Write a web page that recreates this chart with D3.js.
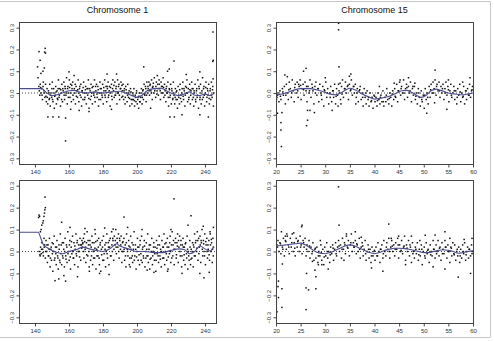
<!DOCTYPE html>
<html>
<head>
<meta charset="utf-8">
<script src="https://d3js.org/d3.v7.min.js"></script>
<style>
body { margin: 0; background: #fff; font-family: "Liberation Sans", Arial, sans-serif; }
.tick text { font-size: 6px; fill: #333; }
.title { font-size: 9px; fill: #111; }
</style>
</head>
<body>
<script>
// chromosome 1, upper panel
var chr1TopBand = [[142.3,0.03],[142.8,-0.01],[143.1,0.04],[143.6,0.0],[144.0,0.02],[144.4,-0.03],[144.9,0.05],[145.3,0.01],[145.8,-0.02],[146.2,0.04],[146.7,-0.04],[147.1,0.02],
[147.5,-0.05],[147.9,0.01],[148.3,-0.03],[148.7,0.04],[149.0,-0.06],[149.4,0.0],[149.8,-0.02],[150.2,0.05],[150.6,-0.04],[151.0,0.02],[151.4,-0.07],[151.8,-0.01],
[152.2,0.03],[152.6,-0.05],[153.0,0.01],[153.4,-0.03],[153.8,0.06],[154.2,-0.02],[154.6,0.02],[155.0,-0.06],[155.4,0.0],[155.8,0.04],[156.2,-0.04],[156.6,0.01],
[157.0,0.05],[157.4,-0.03],[157.8,0.02],[158.2,-0.01],[158.6,0.07],[159.0,-0.05],[159.4,0.03],[159.8,0.0],[160.2,0.06],[160.6,-0.02],[161.0,0.04],[161.4,-0.04],[161.8,0.02],
[162.2,0.05],[162.6,-0.03],[163.0,0.08],[163.4,0.0],[163.8,-0.05],[164.2,0.03],[164.6,0.01],[165.0,-0.02],[165.4,0.06],[165.8,-0.04],[166.2,0.02],[166.6,-0.01],
[167.0,0.04],[167.4,-0.06],[167.8,0.01],[168.2,-0.03],[168.6,0.05],[169.0,0.0],[169.4,-0.02],[169.8,0.03],[170.2,-0.05],[170.6,0.02],[171.0,-0.01],[171.4,0.06],[171.8,-0.07],
[172.2,0.02],[172.6,-0.03],[173.0,0.04],[173.4,0.0],[173.8,-0.05],[174.2,0.03],[174.6,-0.01],[175.0,0.06],[175.4,-0.04],[175.8,0.01],[176.2,0.04],[176.6,-0.02],
[177.0,0.03],[177.4,-0.06],[177.8,0.0],[178.2,0.05],[178.6,-0.03],[179.0,0.02],[179.4,-0.01],[179.8,0.04],[180.2,-0.05],[180.6,0.01],[181.0,0.06],[181.4,-0.02],[181.8,0.03],
[182.2,-0.04],[182.6,0.02],[183.0,0.05],[183.4,-0.01],[183.8,0.03],[184.2,-0.06],[184.6,0.0],[185.0,0.04],[185.4,-0.03],[185.8,0.06],[186.2,0.01],[186.6,-0.02],
[187.0,0.05],[187.4,-0.01],[187.8,0.03],[188.2,-0.05],[188.6,0.06],[189.0,0.0],[189.4,0.04],[189.8,-0.03],[190.2,0.02],[190.6,0.05],[191.0,-0.02],[191.4,0.01],[191.8,0.04],
[192.2,-0.03],[192.6,0.02],[193.0,-0.05],[193.4,0.03],[193.8,0.0],[194.2,-0.04],[194.6,0.04],[195.0,-0.02],[195.4,0.01],[195.8,-0.06],[196.2,0.02],[196.6,-0.03],
[197.0,-0.05],[197.4,0.0],[197.8,-0.03],[198.2,0.02],[198.6,-0.06],[199.0,-0.01],[199.4,-0.04],[199.8,0.01],[200.2,-0.05],[200.6,-0.02],[201.0,-0.07],[201.4,0.0],[201.8,-0.04],
[202.2,-0.02],[202.6,0.02],[203.0,-0.05],[203.4,0.01],[203.8,-0.03],[204.2,0.04],[204.6,-0.01],[205.0,0.03],[205.4,-0.04],[205.8,0.05],[206.2,0.0],[206.6,0.02],
[207.0,0.05],[207.4,-0.01],[207.8,0.04],[208.2,0.01],[208.6,0.06],[209.0,-0.03],[209.4,0.03],[209.8,0.0],[210.2,0.07],[210.6,0.02],[211.0,-0.02],[211.4,0.05],[211.8,0.01],
[212.2,0.04],[212.6,-0.01],[213.0,0.06],[213.4,0.02],[213.8,-0.03],[214.2,0.05],[214.6,0.0],[215.0,0.03],[215.4,0.07],[215.8,-0.02],[216.2,0.04],[216.6,0.01],
[217.0,-0.04],[217.4,0.03],[217.8,0.0],[218.2,0.05],[218.6,-0.06],[219.0,0.02],[219.4,-0.02],[219.8,0.04],[220.2,-0.05],[220.6,0.01],[221.0,-0.03],[221.4,0.05],[221.8,-0.01],
[222.2,-0.05],[222.6,0.02],[223.0,-0.03],[223.4,0.01],[223.8,-0.07],[224.2,0.03],[224.6,-0.02],[225.0,-0.05],[225.4,0.04],[225.8,-0.01],[226.2,-0.04],[226.6,0.02],
[227.0,0.05],[227.4,-0.03],[227.8,0.01],[228.2,-0.06],[228.6,0.03],[229.0,0.0],[229.4,0.06],[229.8,-0.04],[230.2,0.02],[230.6,-0.02],[231.0,0.04],[231.4,-0.05],[231.8,0.01],
[232.2,0.05],[232.6,-0.03],[233.0,0.02],[233.4,-0.06],[233.8,0.0],[234.2,0.04],[234.6,-0.04],[235.0,0.01],[235.4,-0.02],[235.8,0.06],[236.2,-0.07],[236.6,0.02],
[237.0,-0.03],[237.4,0.04],[237.8,-0.05],[238.2,0.01],[238.6,0.07],[239.0,-0.02],[239.4,0.03],[239.8,-0.06],[240.2,0.0],[240.6,0.05],[241.0,-0.04],[241.4,0.02],[241.8,-0.01],
[242.2,0.04],[242.6,-0.05],[243.0,0.01],[243.4,-0.03],[243.8,0.05],[244.2,-0.02],[244.6,0.03],[245.0,-0.06],[244.9,0.0]];
var chr1TopCore = [[142.55,0.01],[143.35,0.025],[144.15,-0.01],[144.75,0.03],[145.55,0.0],[146.45,-0.015],[147.25,-0.02],[148.05,0.0],[148.55,-0.025],[149.15,-0.01],
[149.95,0.02],[150.35,-0.03],[151.15,0.0],[151.65,-0.015],[152.45,0.005],[153.15,-0.025],[153.65,0.02],[154.35,-0.01],[155.15,0.015],[155.65,-0.03],
[156.35,0.02],[157.15,-0.01],[157.65,0.03],[158.35,0.0],[159.15,0.02],[159.65,-0.02],[160.35,0.025],[161.15,0.0],[161.65,0.035],[162.35,-0.01],
[163.15,0.02],[163.65,0.04],[164.35,-0.015],[165.15,0.015],[165.65,0.0],[166.35,0.03],[167.15,-0.02],[167.65,0.01],[168.35,0.025],[169.15,-0.03],
[169.65,0.015],[170.35,0.0],[171.15,0.02],[171.65,-0.025],[172.45,0.01],[173.15,-0.015],[173.65,0.025],[174.45,0.0],[175.15,-0.02],[175.65,0.03],
[176.45,-0.005],[177.15,0.015],[177.65,-0.03],[178.45,0.02],[179.15,0.0],[179.65,-0.02],[180.45,0.025],[181.15,-0.01],[181.65,0.01],[182.45,0.03],
[183.15,-0.02],[183.65,0.01],[184.45,0.025],[185.15,-0.015],[185.65,0.02],[186.45,0.035],[187.15,-0.01],[187.65,0.02],[188.45,0.0],[189.15,0.03],
[189.65,-0.01],[190.45,0.02],[191.15,0.035],[191.65,-0.015],[192.45,0.01],[193.15,-0.02],[193.65,0.015],[194.45,-0.01],[195.15,0.0],[195.65,-0.025],
[196.45,0.005],[197.15,-0.03],[197.65,-0.01],[198.45,-0.035],[199.15,-0.02],[199.65,0.0],[200.45,-0.03],[201.15,-0.015],[201.65,-0.04],[202.45,0.0],
[203.15,-0.02],[203.65,0.015],[204.45,-0.005],[205.15,0.02],[205.65,-0.01],[206.45,0.03],[207.15,0.01],[207.65,0.035],[208.45,0.0],[209.15,0.025],
[209.65,0.045],[210.45,0.01],[211.15,0.03],[211.65,-0.005],[212.45,0.02],[213.15,0.04],[213.65,0.01],[214.45,0.03],[215.15,0.0],[215.65,0.025],
[216.45,-0.01],[217.15,0.02],[217.65,0.0],[218.45,-0.02],[219.15,0.015],[219.65,-0.01],[220.45,0.02],[221.15,-0.025],[221.65,0.0],[222.45,-0.02],
[223.15,0.005],[223.65,-0.03],[224.45,-0.01],[225.15,0.015],[225.65,-0.025],[226.45,0.0],[227.15,-0.015],[227.65,0.02],[228.45,-0.01],[229.15,0.025],
[229.65,0.0],[230.45,-0.03],[231.15,0.015],[231.65,-0.01],[232.45,0.02],[233.15,-0.02],[233.65,0.01],[234.45,-0.03],[235.15,0.02],[235.65,-0.01],
[236.45,0.03],[237.15,-0.02],[237.65,0.0],[238.45,-0.03],[239.15,0.02],[239.65,-0.01],[240.45,0.025],[241.15,-0.02],[241.65,0.01],[242.45,-0.025],
[243.15,0.02],[243.65,-0.01],[244.45,0.015]];
var chr1TopOut = [[142.4,0.19],[143.0,0.15],[141.5,0.12],[144.7,0.1],[146.0,0.205],[145.7,0.188],[146.2,0.183],[145.5,0.115],[143.5,0.09],[141.8,0.07],
[147.6,-0.11],[150.6,-0.11],[154,-0.11],[158,-0.115],[158,-0.22],[171.8,-0.085],[204,0.12],[221.8,0.147],[219,0.11],[219.4,-0.11],[222,-0.11],
[226.5,-0.1],[237,-0.1],[242,-0.11],[244.7,0.28],[244.6,0.145],[244.9,0.15],[244.8,0.065],[188,0.087],[182.4,0.087],[160,0.097],[212,0.08],
[218,0.1],[237,0.097],[229,0.085],[166,-0.08],[185,-0.075],[208,-0.07],[161,-0.075]];
var chr1TopFit = [[130,0.02],[144,0.02],[147,0.0],[150,-0.012],[153,-0.008],[156,0.0],[160,0.01],[163,0.012],[166,0.005],[170,0.0],[175,0.005],[180,0.0],
[185,0.005],[190,0.008],[193,0.0],[197,-0.012],[200,-0.02],[203,-0.01],[206,0.01],[210,0.02],[214,0.022],[217,0.012],[220,0.0],[224,-0.012],
[228,-0.005],[231,0.005],[234,-0.01],[237,-0.012],[240,-0.005],[243,-0.012],[245,-0.005]];

// chromosome 1, lower panel
var chr1BotBand = [[142.5,0.0],[142.9,-0.015],[143.3,0.02],[143.7,-0.01],[144.1,0.04],[144.5,0.01],[144.9,-0.02],[145.3,0.06],[145.7,0.03],[146.1,-0.03],[146.5,0.05],[146.9,0.0],
[147.3,-0.05],[147.7,0.03],[148.1,-0.02],[148.5,0.06],[148.9,-0.07],[149.3,0.01],[149.7,-0.04],[150.1,0.04],[150.5,-0.09],[150.9,0.0],[151.3,0.07],[151.7,-0.03],
[152.1,0.02],[152.5,-0.06],[152.9,0.05],[153.3,-0.02],[153.7,-0.08],[154.1,0.03],[154.5,-0.04],[154.9,0.08],[155.3,-0.01],[155.7,-0.06],[156.1,0.04],[156.5,-0.03],[156.9,0.01],
[157.3,-0.07],[157.7,0.06],[158.1,-0.02],[158.5,0.03],[158.9,-0.05],[159.3,0.09],[159.7,0.0],[160.1,-0.04],[160.5,0.05],[160.9,-0.08],[161.3,0.02],[161.7,-0.01],
[162.1,0.07],[162.5,-0.03],[162.9,0.04],[163.3,-0.06],[163.7,0.01],[164.1,0.08],[164.5,-0.02],[164.9,0.05],[165.3,-0.07],[165.7,0.03],[166.1,0.0],[166.5,0.06],[166.9,-0.04],
[167.3,0.03],[167.6,0.05],[167.9,0.02],[168.2,0.04],[168.5,0.06],[168.8,-0.03],[169.1,0.08],[169.5,0.01],[169.9,-0.05],[170.3,0.04],[170.7,0.09],[171.1,-0.02],[171.5,0.03],[171.9,-0.07],
[172.3,0.05],[172.7,-0.04],[173.1,0.02],[173.5,0.07],[173.9,-0.06],[174.3,0.0],[174.7,0.04],[175.1,-0.03],[175.5,0.08],[175.9,-0.08],[176.3,0.01],[176.7,0.05],
[177.1,-0.02],[177.5,0.06],[177.9,-0.06],[178.3,0.03],[178.7,-0.09],[179.1,0.01],[179.5,0.05],[179.9,-0.04],[180.3,0.07],[180.7,-0.01],[181.1,0.03],[181.5,-0.07],[181.9,0.0],
[182.3,0.08],[182.7,-0.03],[183.1,0.04],[183.5,-0.06],[183.9,0.02],[184.3,0.06],[184.7,-0.02],[185.1,0.09],[185.5,0.0],[185.9,0.05],[186.3,-0.04],[186.7,0.07],
[187.1,0.03],[187.5,0.1],[187.9,-0.01],[188.3,0.06],[188.7,0.02],[189.1,0.08],[189.5,-0.03],[189.9,0.05],[190.3,0.01],[190.7,0.07],[191.1,-0.05],[191.5,0.04],[191.9,0.0],
[192.3,0.06],[192.7,-0.04],[193.1,0.03],[193.5,-0.07],[193.9,0.08],[194.3,0.01],[194.7,-0.02],[195.1,0.05],[195.5,-0.06],[195.9,0.02],[196.3,0.07],[196.7,-0.03],
[197.1,0.04],[197.5,-0.05],[197.9,0.01],[198.3,0.09],[198.7,-0.02],[199.1,0.03],[199.5,-0.08],[199.9,0.0],[200.3,0.06],[200.7,-0.04],[201.1,0.02],[201.5,-0.06],[201.9,0.05],
[202.3,-0.01],[202.7,0.07],[203.1,-0.05],[203.5,0.02],[203.9,-0.03],[204.3,0.05],[204.7,-0.07],[205.1,0.0],[205.5,0.04],[205.9,-0.02],[206.3,0.08],[206.7,-0.05],
[207.1,0.01],[207.5,-0.08],[207.9,0.03],[208.3,-0.03],[208.7,0.06],[209.1,-0.06],[209.5,0.0],[209.9,0.04],[210.3,-0.04],[210.7,0.02],[211.1,-0.09],[211.5,0.05],[211.9,-0.01],
[212.3,0.03],[212.7,-0.05],[213.1,0.07],[213.5,-0.02],[213.9,0.01],[214.3,-0.07],[214.7,0.05],[215.1,-0.03],[215.5,0.02],[215.9,0.08],[216.3,-0.06],[216.7,0.0],
[217.1,0.04],[217.5,-0.04],[217.9,0.06],[218.3,-0.08],[218.7,0.02],[219.1,-0.01],[219.5,0.07],[219.9,-0.05],[220.3,0.03],[220.7,0.09],[221.1,-0.02],[221.5,0.05],[221.9,-0.06],
[222.3,0.01],[222.7,0.06],[223.1,-0.03],[223.5,0.04],[223.9,0.08],[224.3,-0.05],[224.7,0.02],[225.1,0.07],[225.5,-0.02],[225.9,0.05],[226.3,-0.07],[226.7,0.03],
[227.1,0.06],[227.5,-0.04],[227.9,0.02],[228.3,-0.06],[228.7,0.04],[229.1,-0.01],[229.5,0.07],[229.9,-0.08],[230.3,0.0],[230.7,-0.04],[231.1,0.05],[231.5,-0.06],[231.9,0.01],
[232.3,-0.03],[232.7,0.04],[233.1,-0.07],[233.5,0.02],[233.9,0.08],[234.3,-0.02],[234.7,0.05],[235.1,0.0],[235.5,0.09],[235.9,-0.04],[236.3,0.06],[236.7,0.02],
[237.1,0.07],[237.5,-0.05],[237.9,0.04],[238.3,0.1],[238.7,-0.02],[239.1,0.05],[239.5,0.0],[239.9,0.08],[240.3,-0.06],[240.7,0.03],[241.1,0.06],[241.5,-0.03],[241.9,0.01],
[242.3,0.05],[242.7,-0.04],[243.1,0.08],[243.5,0.0],[243.9,0.04],[244.3,-0.05],[244.7,0.06],[245.0,0.02],[244.9,-0.02]];
var chr1BotCore = [[143.05,-0.02],[143.85,0.01],[144.65,-0.005],[145.45,0.02],[146.25,0.0],[147.05,0.03],[147.85,-0.02],[148.35,0.01],[149.05,-0.03],[149.55,0.02],
[150.25,-0.01],[150.75,0.035],[151.45,-0.04],[152.25,-0.01],[152.75,0.02],[153.45,-0.03],[154.25,0.01],[154.75,-0.05],[155.45,0.03],[156.25,-0.02],
[156.75,0.04],[157.45,0.0],[158.25,-0.035],[158.75,0.02],[159.45,-0.01],[160.25,0.03],[160.75,-0.025],[161.45,0.045],[162.25,0.0],[162.75,-0.03],
[163.45,0.025],[164.25,-0.01],[164.75,0.04],[165.45,0.0],[166.25,-0.025],[166.75,0.03],[167.45,0.015],[168.05,0.035],[168.65,0.0],[169.25,0.045],
[169.75,0.02],[170.45,-0.015],[171.25,0.05],[171.75,0.0],[172.45,0.03],[173.25,-0.02],[173.75,0.04],[174.45,-0.03],[175.25,0.015],[175.75,0.045],
[176.45,-0.02],[177.25,0.02],[177.75,-0.03],[178.45,0.04],[179.25,-0.015],[179.75,0.02],[180.45,-0.04],[181.25,0.01],[181.75,0.04],[182.45,-0.01],
[183.25,0.02],[183.75,0.05],[184.45,-0.02],[185.25,0.03],[185.75,0.06],[186.45,0.01],[187.25,0.05],[187.75,0.02],[188.45,0.04],[189.25,0.0],
[189.75,0.06],[190.45,0.03],[191.25,0.0],[191.75,0.045],[192.45,0.01],[193.25,-0.02],[193.75,0.04],[194.45,0.0],[195.25,0.025],[195.75,-0.03],
[196.45,0.01],[197.25,-0.02],[197.75,0.03],[198.45,-0.04],[199.25,0.01],[199.75,-0.025],[200.45,0.02],[201.25,-0.015],[201.75,0.03],[202.45,-0.04],
[203.25,0.01],[203.75,-0.02],[204.45,0.025],[205.25,-0.03],[205.75,0.01],[206.45,-0.02],[207.25,0.03],[207.75,-0.035],[208.45,0.0],[209.25,-0.02],
[209.75,0.02],[210.45,-0.01],[211.25,-0.04],[211.75,0.015],[212.45,-0.02],[213.25,0.03],[213.75,-0.035],[214.45,0.0],[215.25,0.02],[215.75,-0.03],
[216.45,0.035],[217.25,-0.01],[217.75,0.02],[218.45,-0.025],[219.25,0.04],[219.75,0.0],[220.45,-0.03],[221.25,0.03],[221.75,0.01],[222.45,0.04],
[223.25,-0.015],[223.75,0.025],[224.45,0.05],[225.25,0.0],[225.75,0.03],[226.45,-0.02],[227.25,0.02],[227.75,-0.015],[228.45,0.035],[229.25,-0.03],
[229.75,0.01],[230.45,-0.02],[231.25,0.02],[231.75,-0.035],[232.45,0.0],[233.25,0.03],[233.75,-0.02],[234.45,0.04],[235.25,0.015],[235.75,0.05],
[236.45,-0.01],[237.25,0.03],[237.75,0.05],[238.45,0.01],[239.25,0.035],[239.75,-0.02],[240.45,0.045],[241.25,0.0],[241.75,0.03],[242.45,-0.015],
[243.25,0.03],[243.75,0.055],[244.45,0.01]];
var chr1BotOut = [[142.4,0.166],[142.1,0.155],[142.7,0.16],[145.9,0.248],[146.1,0.2],[145.8,0.19],[145.6,0.175],[145.3,0.16],[144.9,0.14],[144.6,0.13],
[144.0,0.12],[143.6,0.1],[143.2,0.09],[221.8,0.24],[231.8,0.163],[192.4,0.157],[155.7,0.133],[151.8,-0.133],[154,-0.125],[158,-0.135],[157,-0.11],
[239.4,-0.12],[237,-0.1],[242.5,-0.095],[226.5,-0.1],[218,-0.09],[210,-0.095],[206,-0.085],[196,-0.07],[183.6,-0.105],[178,-0.1],[172,-0.09],
[165,-0.115],[160.6,0.11],[169.4,0.105],[175.3,0.1],[181,0.107],[186,0.102],[194.5,0.11],[203,0.1],[220,0.1],[230,0.12],[239,0.115],[245,0.11],[243,0.09]];
var chr1BotFit = [[130,0.088],[142,0.088],[143,0.07],[145,0.03],[147,0.018],[150,0.005],[153,-0.005],[156,-0.01],[160,0.0],[165,0.01],[168,0.02],
[172,0.012],[176,0.005],[180,0.0],[184,0.012],[188,0.035],[190,0.025],[195,0.012],[200,0.0],[205,0.0],[210,-0.005],[215,-0.005],[220,0.005],
[225,0.012],[228,0.008],[231,-0.01],[234,0.0],[237,0.025],[240,0.012],[243,0.002],[245,0.02]];

// chromosome 15, upper panel
var chr15TopBand = [[20.2,-0.02],[20.4,0.0],[20.6,-0.04],[20.8,0.01],[21.0,-0.03],[21.3,0.02],[21.5,-0.01],[21.7,0.03],[21.9,-0.05],[22.1,0.04],[22.3,0.0],[22.5,-0.03],[22.7,0.05],[22.9,0.02],[23.1,-0.02],[23.3,0.06],[23.5,0.01],[23.7,-0.04],[23.9,0.04],
[24.1,0.0],[24.3,0.05],[24.5,-0.02],[24.7,0.03],[24.9,0.06],[25.1,-0.03],[25.3,0.02],[25.5,0.04],[25.7,-0.01],[25.9,0.05],[26.1,0.01],[26.3,-0.04],[26.5,0.03],[26.7,0.0],[26.9,0.06],[27.1,-0.02],[27.3,0.04],[27.5,0.01],[27.7,-0.05],[27.9,0.03],
[28.1,0.05],[28.3,-0.01],[28.5,0.02],[28.7,-0.04],[28.9,0.04],[29.1,0.0],[29.3,-0.03],[29.5,0.03],[29.7,-0.06],[29.9,0.01],[30.1,0.05],[30.3,-0.02],[30.5,0.02],[30.7,-0.05],[30.9,0.0],[31.1,0.03],[31.3,-0.04],[31.5,0.01],[31.7,-0.02],[31.9,0.04],
[32.1,-0.05],[32.3,0.02],[32.5,-0.01],[32.7,0.04],[32.9,0.0],[33.1,-0.03],[33.3,0.03],[33.5,0.06],[33.7,-0.02],[33.9,0.02],[34.1,0.05],[34.3,0.0],[34.5,0.03],[34.7,-0.03],[34.9,0.04],[35.1,0.01],[35.3,0.06],[35.5,-0.01],[35.7,0.03],[35.9,0.0],
[36.1,0.04],[36.3,-0.02],[36.5,0.02],[36.7,-0.04],[36.9,0.01],[37.1,0.03],[37.3,-0.03],[37.5,0.0],[37.7,-0.06],[37.9,0.02],[38.1,-0.02],[38.3,-0.05],[38.5,0.01],[38.7,-0.03],[38.9,-0.06],[39.1,0.0],[39.3,-0.04],[39.5,-0.02],[39.7,-0.07],[39.9,-0.01],
[40.1,-0.04],[40.3,-0.02],[40.5,-0.06],[40.7,0.0],[40.9,-0.03],[41.1,-0.05],[41.3,-0.01],[41.5,-0.04],[41.7,0.01],[41.9,-0.06],[42.1,-0.02],[42.3,-0.04],[42.5,0.02],[42.7,-0.03],[42.9,-0.05],[43.1,0.0],[43.3,-0.02],[43.5,-0.06],[43.7,0.01],[43.9,-0.03],
[44.1,0.02],[44.3,-0.02],[44.5,0.04],[44.7,-0.04],[44.9,0.01],[45.1,0.05],[45.3,-0.01],[45.5,0.03],[45.7,0.0],[45.9,0.06],[46.1,-0.03],[46.3,0.02],[46.5,0.04],[46.7,-0.02],[46.9,0.03],[47.1,0.0],[47.3,0.05],[47.5,-0.04],[47.7,0.02],[47.9,-0.01],
[48.1,0.03],[48.3,-0.03],[48.5,0.0],[48.7,-0.05],[48.9,0.02],[49.1,-0.02],[49.3,-0.06],[49.5,0.01],[49.7,-0.04],[49.9,-0.01],[50.1,-0.07],[50.3,0.02],[50.5,-0.03],[50.7,0.0],[50.9,-0.05],[51.1,0.03],[51.3,-0.02],[51.5,0.04],[51.7,0.0],[51.9,0.05],
[52.1,0.02],[52.3,0.06],[52.5,-0.01],[52.7,0.04],[52.9,0.01],[53.1,0.05],[53.3,-0.02],[53.5,0.03],[53.7,0.0],[53.9,0.04],[54.1,-0.03],[54.3,0.02],[54.5,0.05],[54.7,-0.01],[54.9,0.03],[55.1,-0.04],[55.3,0.01],[55.5,0.04],[55.7,-0.02],[55.9,0.0],
[56.1,0.03],[56.3,-0.03],[56.5,0.01],[56.7,-0.05],[56.9,0.02],[57.1,-0.01],[57.3,0.04],[57.5,-0.04],[57.7,0.0],[57.9,-0.02],[58.1,0.03],[58.3,-0.05],[58.5,0.01],[58.7,-0.03],[58.9,0.02],[59.1,-0.01],[59.3,0.04],[59.5,-0.02],[59.7,0.01],[59.9,0.03]];
var chr15TopCore = [[20.3,-0.01],[20.9,-0.015],[21.4,0.005],[22.0,-0.01],[22.6,0.015],[23.2,0.0],[23.8,0.025],[24.4,0.01],[25.0,0.035],[25.6,0.015],
[26.2,0.03],[26.8,0.01],[27.4,0.025],[28.0,0.0],[28.6,0.02],[29.2,-0.01],[29.8,0.015],[30.4,0.0],[31.0,-0.02],[31.6,0.01],[32.2,-0.015],[32.8,0.01],
[33.4,-0.005],[34.0,0.02],[34.6,0.035],[35.2,0.015],[35.8,0.03],[36.4,0.0],[37.0,0.015],[37.6,-0.02],[38.2,0.0],[38.8,-0.02],[39.4,-0.035],[40.0,-0.015],
[40.6,-0.035],[41.2,-0.02],[41.8,-0.04],[42.4,-0.01],[43.0,-0.025],[43.6,-0.005],[44.2,-0.015],[44.8,0.01],[45.4,0.02],[46.0,0.0],[46.6,0.025],[47.2,0.01],
[47.8,0.03],[48.4,-0.015],[49.0,0.0],[49.6,-0.03],[50.2,-0.01],[50.8,-0.02],[51.4,0.015],[52.0,0.0],[52.6,0.03],[53.2,0.01],[53.8,0.02],[54.4,0.0],
[55.0,0.015],[55.6,-0.01],[56.2,0.01],[56.8,-0.02],[57.4,0.005],[58.0,-0.015],[58.6,0.01],[59.2,-0.01],[59.8,0.015],[20.1,-0.03],[24.6,0.04],[33.0,0.045],
[36.2,-0.05],[44.0,0.045],[52.2,-0.045],[57.9,0.05],[48.2,0.045],[41.0,0.03]];
var chr15TopOut = [[32.7,0.32],[32.7,0.29],[32.8,0.12],[21,-0.136],[21,-0.17],[21.1,-0.246],[20.3,-0.093],[21.2,-0.09],[26.2,-0.15],[26.4,-0.125],
[26.4,-0.08],[26.9,-0.08],[27.8,-0.09],[26.1,0.113],[25.6,0.1],[21.8,0.083],[22.3,0.075],[30,0.07],[35.2,0.087],[34.9,0.077],[50.6,-0.093],
[52.3,0.105],[54.7,-0.075],[55,0.06],[59.4,0.07],[45.2,0.06],[46.9,0.07],[31.4,-0.08],[32.6,-0.06],[33.2,-0.05]];
var chr15TopFit = [[20,-0.01],[22,0.0],[23.5,0.012],[25,0.02],[27,0.02],[29,0.01],[31,-0.005],[32,-0.008],[33.5,0.005],[35,0.022],[36,0.015],
[37.5,-0.005],[39,-0.02],[40,-0.028],[41,-0.025],[43,-0.015],[44.5,0.0],[45.5,0.01],[46.5,0.012],[47.5,0.003],[48.5,-0.01],[49.5,-0.02],
[50.5,-0.01],[51.5,0.01],[52.5,0.018],[53.5,0.012],[55,0.0],[56.5,-0.005],[58,-0.008],[59,-0.004],[60,0.0]];

// chromosome 15, lower panel
var chr15BotBand = [[20.2,0.03],[20.4,0.05],[20.6,0.0],[20.8,0.04],[21.0,-0.01],[21.3,0.02],[21.5,0.06],[21.7,-0.02],[21.9,0.05],[22.1,0.01],[22.3,0.07],[22.5,0.03],[22.7,-0.01],[22.9,0.06],[23.1,0.02],[23.3,0.08],[23.5,0.0],[23.7,0.04],[23.9,-0.02],
[24.1,0.06],[24.3,0.02],[24.5,0.05],[24.7,0.0],[24.9,0.07],[25.1,0.03],[25.3,-0.01],[25.5,0.05],[25.7,0.02],[25.9,0.06],[26.1,-0.02],[26.3,0.03],[26.5,0.0],[26.7,0.05],[26.9,-0.03],[27.1,0.02],[27.3,-0.01],[27.5,0.04],[27.7,-0.04],[27.9,0.01],
[28.1,-0.03],[28.3,0.02],[28.5,-0.05],[28.7,0.0],[28.9,-0.02],[29.1,0.03],[29.3,-0.04],[29.5,0.01],[29.7,-0.06],[29.9,0.02],[30.1,-0.02],[30.3,0.04],[30.5,-0.03],[30.7,0.0],[30.9,-0.05],[31.1,0.02],[31.3,-0.01],[31.5,0.03],[31.7,-0.04],[31.9,0.01],
[32.1,0.04],[32.3,-0.02],[32.5,0.02],[32.7,0.05],[32.9,0.0],[33.1,0.03],[33.3,-0.03],[33.5,0.06],[33.7,0.01],[33.9,0.04],[34.1,-0.01],[34.3,0.07],[34.5,0.02],[34.7,0.05],[34.9,-0.02],[35.1,0.03],[35.3,0.08],[35.5,0.0],[35.7,0.04],[35.9,0.02],
[36.1,0.05],[36.3,-0.01],[36.5,0.03],[36.7,0.0],[36.9,0.06],[37.1,-0.03],[37.3,0.02],[37.5,0.04],[37.7,-0.02],[37.9,0.01],[38.1,0.05],[38.3,-0.04],[38.5,0.0],[38.7,0.03],[38.9,-0.03],[39.1,0.01],[39.3,-0.05],[39.5,0.02],[39.7,-0.02],[39.9,0.0],
[40.1,-0.04],[40.3,0.02],[40.5,-0.02],[40.7,0.04],[40.9,0.0],[41.1,-0.05],[41.3,0.01],[41.5,0.03],[41.7,-0.03],[41.9,0.05],[42.1,0.0],[42.3,-0.02],[42.5,0.04],[42.7,0.01],[42.9,0.06],[43.1,-0.03],[43.3,0.02],[43.5,0.05],[43.7,0.0],[43.9,0.03],
[44.1,-0.02],[44.3,0.04],[44.5,0.01],[44.7,0.06],[44.9,-0.03],[45.1,0.03],[45.3,0.0],[45.5,0.05],[45.7,-0.01],[45.9,0.02],[46.1,0.07],[46.3,-0.04],[46.5,0.03],[46.7,0.0],[46.9,0.05],[47.1,-0.02],[47.3,0.02],[47.5,-0.05],[47.7,0.04],[47.9,0.0],
[48.1,-0.03],[48.3,0.02],[48.5,-0.01],[48.7,0.04],[48.9,-0.04],[49.1,0.01],[49.3,-0.02],[49.5,0.03],[49.7,-0.06],[49.9,0.0],[50.1,0.02],[50.3,-0.03],[50.5,0.04],[50.7,-0.01],[50.9,0.01],[51.1,-0.05],[51.3,0.03],[51.5,0.0],[51.7,-0.02],[51.9,0.05],
[52.1,0.01],[52.3,-0.03],[52.5,0.03],[52.7,0.0],[52.9,0.05],[53.1,-0.02],[53.3,0.02],[53.5,-0.04],[53.7,0.04],[53.9,0.01],[54.1,-0.01],[54.3,0.05],[54.5,0.02],[54.7,-0.03],[54.9,0.03],[55.1,0.0],[55.3,-0.05],[55.5,0.02],[55.7,-0.02],[55.9,0.04],
[56.1,-0.01],[56.3,0.03],[56.5,-0.04],[56.7,0.0],[56.9,-0.02],[57.1,0.02],[57.3,-0.05],[57.5,0.01],[57.7,-0.03],[57.9,0.03],[58.1,-0.01],[58.3,0.04],[58.5,-0.04],[58.7,0.0],[58.9,0.02],[59.1,-0.03],[59.3,0.01],[59.5,-0.02],[59.7,0.03],[59.9,0.0]];
var chr15BotCore = [[20.3,0.02],[20.9,0.035],[21.4,0.01],[22.0,0.045],[22.6,0.02],[23.2,0.04],[23.8,0.015],[24.4,0.045],[25.0,0.02],[25.6,0.04],
[26.2,0.01],[26.8,0.025],[27.4,0.0],[28.0,0.015],[28.6,-0.02],[29.2,-0.005],[29.8,-0.025],[30.4,0.0],[31.0,-0.015],[31.6,0.015],[32.2,-0.01],[32.8,0.025],
[33.4,0.01],[34.0,0.03],[34.6,0.015],[35.2,0.04],[35.8,0.02],[36.4,0.035],[37.0,0.01],[37.6,0.025],[38.2,-0.01],[38.8,0.01],[39.4,-0.02],[40.0,0.005],
[40.6,-0.02],[41.2,0.01],[41.8,-0.01],[42.4,0.02],[43.0,0.0],[43.6,0.025],[44.2,0.01],[44.8,0.03],[45.4,0.005],[46.0,0.025],[46.6,0.015],[47.2,0.03],
[47.8,-0.01],[48.4,0.01],[49.0,-0.015],[49.6,0.01],[50.2,-0.02],[50.8,0.005],[51.4,-0.015],[52.0,0.01],[52.6,-0.01],[53.2,0.015],[53.8,-0.01],[54.4,0.02],
[55.0,0.0],[55.6,0.015],[56.2,-0.015],[56.8,0.01],[57.4,-0.02],[58.0,0.0],[58.6,-0.015],[59.2,0.01],[59.8,-0.01],[21.1,0.09],[23.6,0.085],[29.0,0.05],
[37.3,0.065],[43.4,0.06],[49.2,0.05],[55.3,0.06],[46.3,-0.06],[33.8,-0.04],[58.2,0.055]];
var chr15BotOut = [[32.7,0.295],[32.8,0.12],[42.9,0.125],[25.2,0.113],[25.3,0.12],[20.5,-0.135],[20.4,-0.16],[21.2,-0.17],[20.5,-0.21],[21.2,-0.255],
[20.2,-0.275],[21.3,-0.057],[26.2,-0.1],[26.1,-0.166],[26.6,-0.175],[26.1,-0.265],[27.4,-0.045],[27.9,-0.085],[28.1,-0.115],[28.1,-0.17],
[28.6,-0.06],[29.3,-0.06],[30.6,-0.08],[54.3,-0.08],[57,-0.117],[59.5,-0.1],[59.8,0.06],[54.3,0.09],[47.5,0.07],[34.3,0.08],[36.1,0.09],
[52.3,0.075],[44.9,0.07],[50.3,0.074],[39.4,-0.075],[41.7,-0.09],[51.9,-0.07],[21.9,0.07],[22.2,0.08]];
var chr15BotFit = [[20,0.025],[22,0.03],[24,0.035],[25,0.038],[26,0.03],[27,0.015],[28,0.0],[29,-0.008],[30,-0.01],[31,-0.005],[32,0.005],[33,0.015],
[34,0.025],[35,0.03],[36,0.025],[37,0.015],[38,0.005],[39,-0.005],[40,-0.01],[41,-0.005],[42,0.005],[43,0.01],[44,0.015],[45,0.015],[46,0.013],
[47,0.01],[48,0.005],[49,0.0],[50,-0.005],[51,-0.005],[52,0.0],[53,0.005],[54,0.008],[55,0.005],[56,0.0],[57,-0.008],[58,-0.005],[59,0.0],[60,0.003]];

var yTicks = [0.3, 0.2, 0.1, 0.0, -0.1, -0.2, -0.3];
var chr1Ticks = [140, 160, 180, 200, 220, 240];
var chr15Ticks = [20, 25, 30, 35, 40, 45, 50, 55, 60];
var titles = ["Chromosome 1", "Chromosome 15"];

var W = 494, H = 341;
var svg = d3.select("body").append("svg").attr("width", W).attr("height", H);

// thin frame round the figure
svg.append("line").attr("x1", 0).attr("x2", 490).attr("y1", 1.5).attr("y2", 1.5).attr("stroke", "#c8c8c8");
svg.append("line").attr("x1", 490.5).attr("x2", 490.5).attr("y1", 1.5).attr("y2", 337.5).attr("stroke", "#c8c8c8");
svg.append("line").attr("x1", 0).attr("x2", 490).attr("y1", 337.5).attr("y2", 337.5).attr("stroke", "#c8c8c8");

var clipN = 0;
function panel(left, top, w, h, xDom, xTicks, pts, fit, title) {
  var x = d3.scaleLinear().domain(xDom).range([left, left + w]);
  var y = d3.scaleLinear().domain([-0.326, 0.326]).range([top + h, top]);
  var g = svg.append("g");
  var id = "clip" + (clipN++);
  g.append("clipPath").attr("id", id).append("rect")
    .attr("x", left).attr("y", top).attr("width", w).attr("height", h);

  // dotted zero line
  g.append("line").attr("clip-path", "url(#" + id + ")")
    .attr("x1", left).attr("x2", left + w).attr("y1", y(0)).attr("y2", y(0))
    .attr("stroke", "#000").attr("stroke-width", 0.7).attr("stroke-dasharray", "1,2");

  g.append("g").attr("clip-path", "url(#" + id + ")")
    .selectAll("rect").data(pts).enter().append("rect")
    .attr("x", function(d) { return x(d[0]) - 0.75; })
    .attr("y", function(d) { return y(d[1]) - 0.75; })
    .attr("width", 1.5).attr("height", 1.5)
    .attr("fill", "#111");

  g.append("path").datum(fit).attr("clip-path", "url(#" + id + ")")
    .attr("d", d3.line().curve(d3.curveMonotoneX).x(function(d) { return x(d[0]); }).y(function(d) { return y(d[1]); }))
    .attr("fill", "none").attr("stroke", "#4b4c8e").attr("stroke-width", 1.1);

  g.append("rect").attr("x", left + 0.5).attr("y", top + 0.5).attr("width", w).attr("height", h)
    .attr("fill", "none").attr("stroke", "#444").attr("stroke-width", 1);

  var ya = g.append("g").attr("transform", "translate(" + (left + 0.5) + ",0)")
    .call(d3.axisLeft(y).tickValues(yTicks).tickSize(3));
  ya.select(".domain").remove();
  ya.selectAll("line").attr("stroke", "#444");
  ya.selectAll("text").attr("transform", "rotate(-90)").attr("x", 0).attr("y", -6)
    .attr("dy", 0).attr("text-anchor", "middle")
    .text(function(d) { return d3.format(".1f")(d).replace("-", "\u2212"); });

  var xa = g.append("g").attr("transform", "translate(0," + (top + h + 0.5) + ")")
    .call(d3.axisBottom(x).tickValues(xTicks).tickSize(3));
  xa.select(".domain").remove();
  xa.selectAll("line").attr("stroke", "#444");
  xa.selectAll("text").attr("y", 5);

  if (title) {
    svg.append("text").attr("class", "title").attr("x", left + w / 2).attr("y", 13)
      .attr("text-anchor", "middle").text(title);
  }
}

panel(19, 22, 197, 142, [130.6, 246.5], chr1Ticks, chr1TopBand.concat(chr1TopCore, chr1TopOut), chr1TopFit, titles[0]);
panel(276, 22, 197, 142, [20, 60], chr15Ticks, chr15TopBand.concat(chr15TopCore, chr15TopOut), chr15TopFit, titles[1]);
panel(19, 180, 197, 143, [130.6, 246.5], chr1Ticks, chr1BotBand.concat(chr1BotCore, chr1BotOut), chr1BotFit, null);
panel(276, 180, 197, 143, [20, 60], chr15Ticks, chr15BotBand.concat(chr15BotCore, chr15BotOut), chr15BotFit, null);
</script>
</body>
</html>
